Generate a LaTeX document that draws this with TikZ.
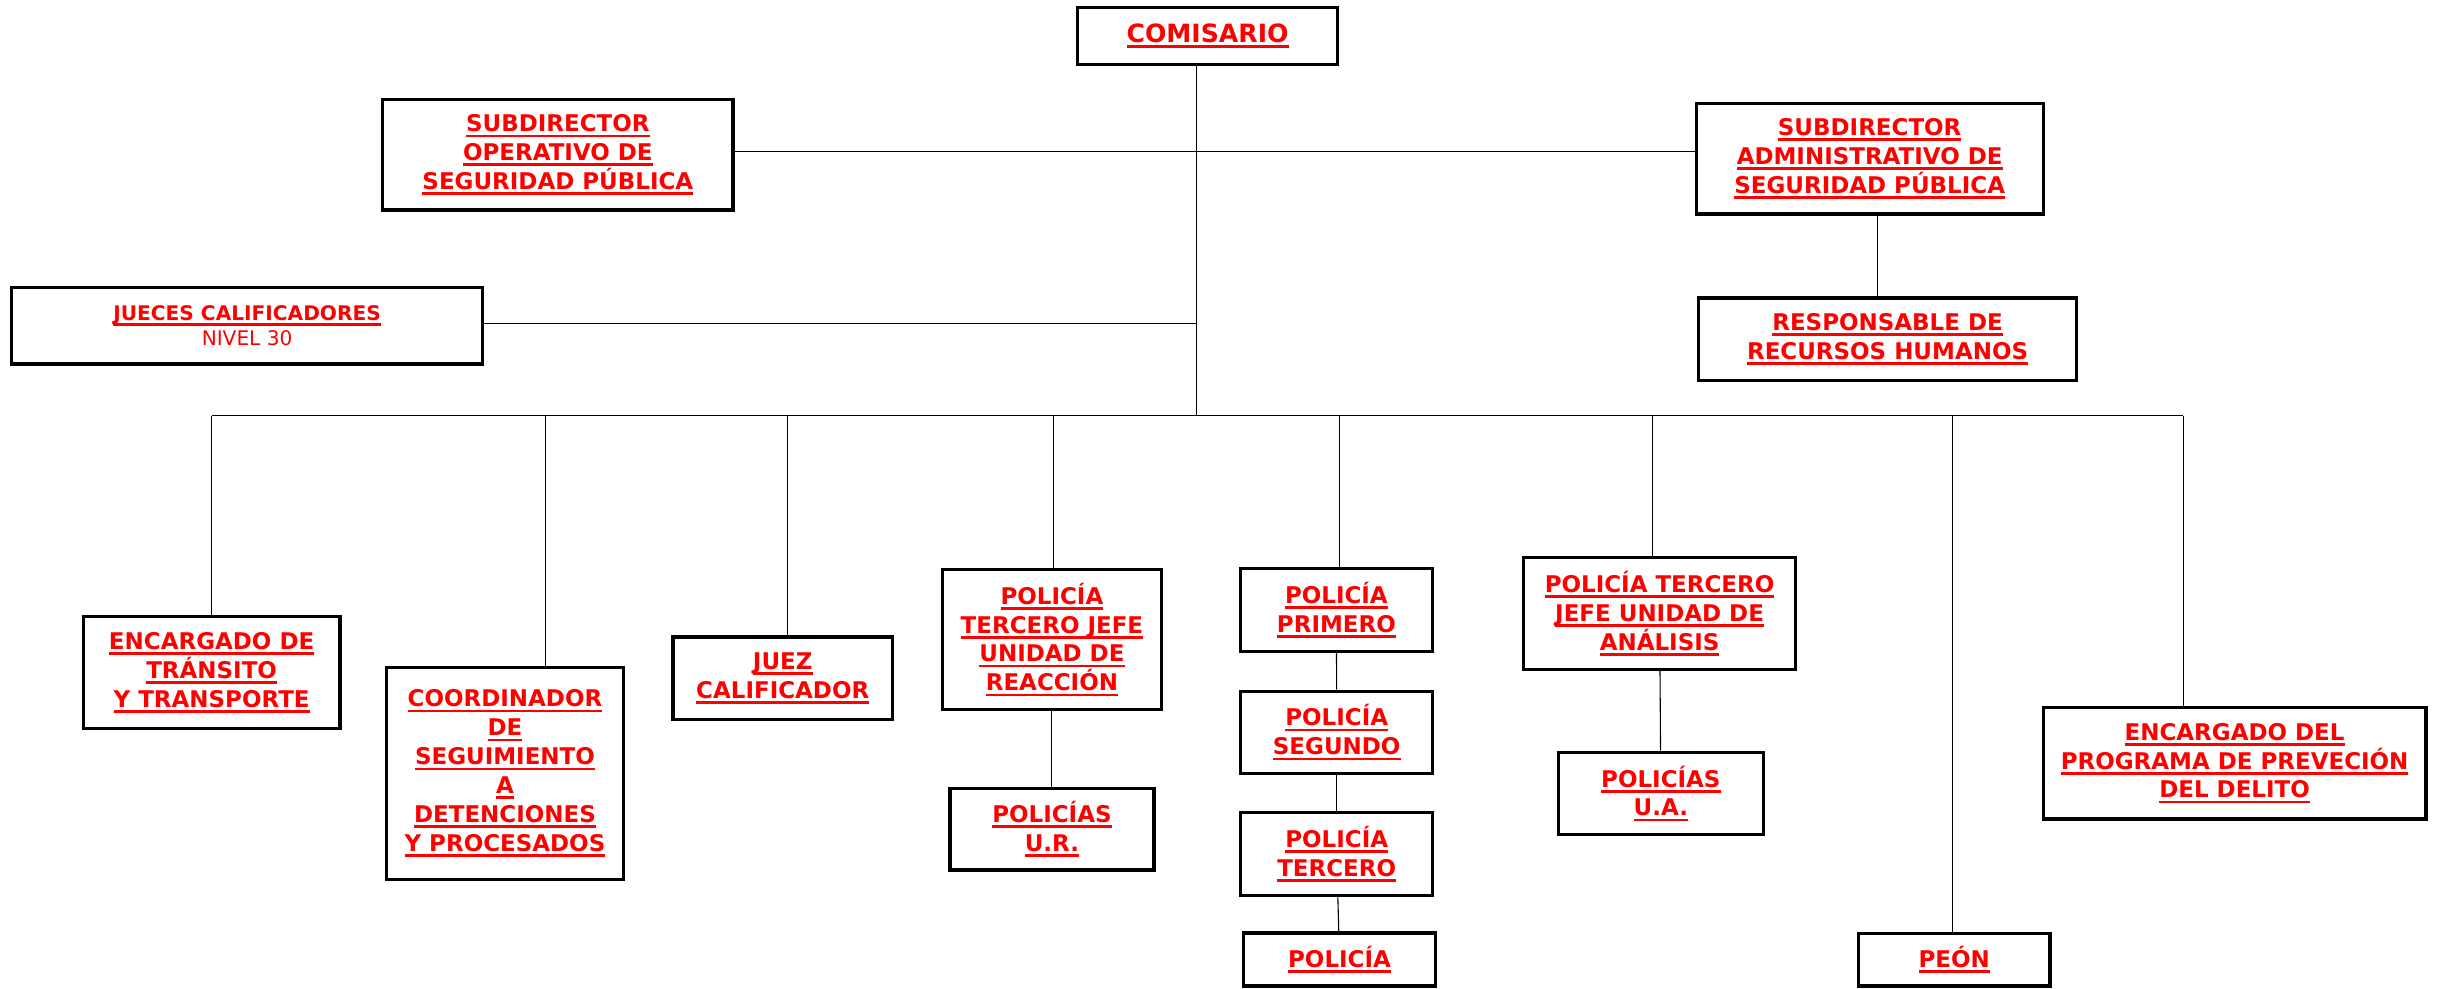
\documentclass[tikz,border=0pt]{standalone}
\usepackage{fontspec}
\setmainfont{DejaVu Sans}
\usepackage{tikz}
\newcommand{\subr}[1]{\setbox0\hbox{#1}\rlap{\vrule width\wd0 height -1.3pt depth 2.5pt}\box0}
\tikzset{
    puesto/.style={draw, line width=1.5pt, align=center, inner sep=0pt, text=red,
        font=\fontsize{10.5}{13.2}\selectfont\bfseries},
    tam/.style 2 args={minimum width=#1*0.025cm, minimum height=#2*0.025cm},
    linea/.style={line width=0.5pt}
}

\begin{document}
\begin{tikzpicture}[x=0.025cm,y=-0.025cm]
\useasboundingbox (0,0) rectangle (1568,635);
\node[puesto,tam={167}{36.6},font=\fontsize{11.5}{13}\selectfont\bfseries] (comis) at (776,23) {\subr{COMISARIO}};
\node[puesto,tam={225}{71}] (subop) at (358.5,99.5) {\subr{SUBDIRECTOR}\\\subr{OPERATIVO DE}\\\subr{SEGURIDAD PÚBLICA}};
\node[puesto,tam={223}{71}] (subadm) at (1201.5,102) {\subr{SUBDIRECTOR}\\\subr{ADMINISTRATIVO DE}\\\subr{SEGURIDAD PÚBLICA}};
\node[puesto,tam={243}{53}] (resp) at (1213,218) {\subr{RESPONSABLE DE}\\\subr{RECURSOS HUMANOS}};
\node[puesto,tam={302.5}{49.3},font=\fontsize{9.2}{11.3}\selectfont] (jueces) at (158.8,209.3) {{\bfseries\subr{JUECES CALIFICADORES}}\\NIVEL 30};
\node[puesto,tam={165}{72}] (trans) at (136,432.3) {\subr{ENCARGADO DE}\\\subr{TRÁNSITO}\\\subr{Y TRANSPORTE}};
\node[puesto,tam={152}{136}] (coord) at (324.5,497) {\subr{COORDINADOR}\\\subr{DE}\\\subr{SEGUIMIENTO}\\\subr{A}\\\subr{DETENCIONES}\\\subr{Y PROCESADOS}};
\node[puesto,tam={141}{53}] (juez) at (503,435.8) {\subr{JUEZ}\\\subr{CALIFICADOR}};
\node[puesto,tam={141}{90}] (pjefe) at (676,411) {\subr{POLICÍA}\\\subr{TERCERO JEFE}\\\subr{UNIDAD DE}\\\subr{REACCIÓN}};
\node[puesto,tam={131}{52.5}] (pur) at (676,532.8) {\subr{POLICÍAS}\\\subr{U.R.}};
\node[puesto,tam={123.5}{53}] (pprim) at (858.8,392) {\subr{POLICÍA}\\\subr{PRIMERO}};
\node[puesto,tam={123.5}{53}] (pseg) at (859,470.7) {\subr{POLICÍA}\\\subr{SEGUNDO}};
\node[puesto,tam={123.5}{53}] (pter) at (859,548.8) {\subr{POLICÍA}\\\subr{TERCERO}};
\node[puesto,tam={123}{34}] (ppol) at (860.8,616.6) {\subr{POLICÍA}};
\node[puesto,tam={175}{72}] (pana) at (1066.5,394.2) {\subr{POLICÍA TERCERO}\\\subr{JEFE UNIDAD DE}\\\subr{ANÁLISIS}};
\node[puesto,tam={131.5}{53}] (pua) at (1067.3,510) {\subr{POLICÍAS}\\\subr{U.A.}};
\node[puesto,tam={123}{34}] (peon) at (1255.8,616.7) {\subr{PEÓN}};
\node[puesto,tam={246}{71.5}] (prog) at (1436,490.5) {\subr{ENCARGADO DEL}\\\subr{PROGRAMA DE PREVECIÓN}\\\subr{DEL DELITO}};
\coordinate (tronco) at (769,267.2);
\draw[linea] (comis.south -| tronco) -- (tronco);
\draw[linea] ([yshift=0.05cm]subop.east) -- ([yshift=0.05cm]subop.east -| subadm.west);
\draw[linea] ([yshift=0.04cm]jueces.east) -- ([yshift=0.04cm]jueces.east -| tronco);
\draw[linea] ([xshift=0.13cm]subadm.south) -- ([xshift=0.13cm]subadm.south |- resp.north);
\draw[linea] (136,267.2) -- (1403,267.2);
\foreach \x/\t in {136/trans,350.6/coord,506/juez,677.2/pjefe,860.6/pprim,1062/pana,1254.6/peon,1403/prog}
    \draw[linea] (\x,267.2) -- (\x,267.2 |- \t.north);
\draw[linea] (pjefe) -- (pur);
\draw[linea] (pprim) -- (pseg);
\draw[linea] (pseg) -- (pter);
\draw[linea] (pter) -- (ppol);
\draw[linea] (pana) -- (pua);
\end{tikzpicture}
\end{document}
